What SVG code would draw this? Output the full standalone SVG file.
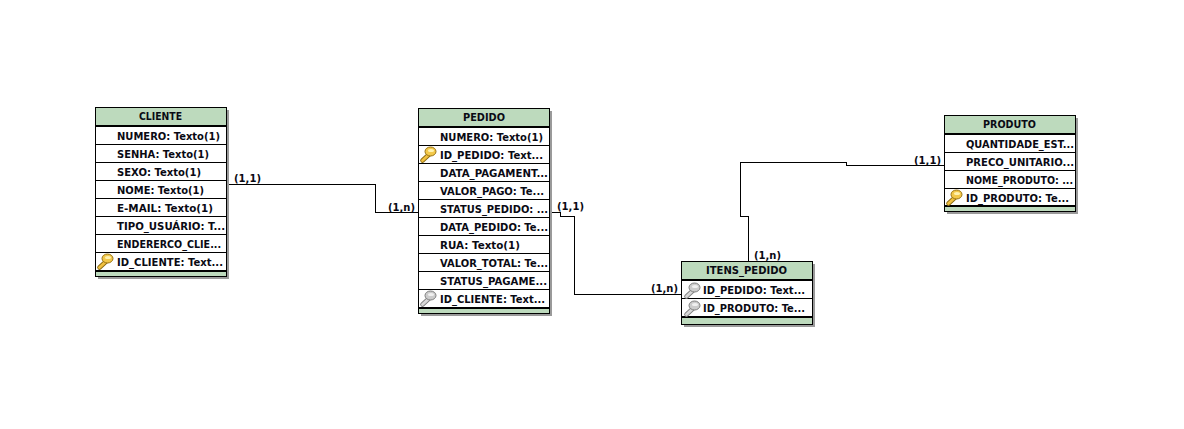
<svg xmlns="http://www.w3.org/2000/svg" xmlns:xlink="http://www.w3.org/1999/xlink" width="1184" height="429" viewBox="0 0 1184 429">
<style>
text{font-family:"DejaVu Sans","Liberation Sans",sans-serif;font-weight:bold;font-size:11px;fill:#0a0a14}
.box{fill:#fff;stroke:none}
.shadow{fill:#9a9a9a}
.head{fill:#bddabd}
.line{fill:none;stroke:#000;stroke-width:1;shape-rendering:crispEdges}
.thick{fill:none;stroke:#000;stroke-width:2;shape-rendering:crispEdges}
.conn{fill:none;stroke:#000;stroke-width:1;shape-rendering:crispEdges}
</style>
<defs>
<g id="key-gold"><path d="M2.500 14.500 L9 8.500" stroke="#8a6a10" stroke-width="4.600" stroke-linecap="round" fill="none"/><path d="M2.500 14.500 L9 8.500" stroke="#f0c040" stroke-width="2.800" stroke-linecap="round" fill="none"/><ellipse cx="10.500" cy="5.500" rx="5.500" ry="4.500" fill="#f2c84a" stroke="#9a7414" stroke-width="1"/><ellipse cx="11" cy="4.500" rx="3" ry="1.600" fill="#fff2b0"/></g>
<g id="key-grey"><path d="M2.500 14.500 L9 8.500" stroke="#808080" stroke-width="4.600" stroke-linecap="round" fill="none"/><path d="M2.500 14.500 L9 8.500" stroke="#d8d8d8" stroke-width="2.800" stroke-linecap="round" fill="none"/><ellipse cx="10.500" cy="5.500" rx="5.500" ry="4.500" fill="#cccccc" stroke="#808080" stroke-width="1"/><ellipse cx="11" cy="4.500" rx="3" ry="1.600" fill="#f0f0f0"/></g>
</defs>
<rect width="1184" height="429" fill="#fff"/>
<g id="connectors">
<path class="conn" d="M228.500 184.500H375.500V212.500H418"/>
<path class="conn" d="M550 212.500H560.500V216.500H574.500V294.500H681"/>
<path class="conn" d="M748.500 261V216.500H740.500V162.500H846.500V165.500H944"/>
</g>
<g id="labels">
<text x="234" y="182" textLength="27" lengthAdjust="spacingAndGlyphs">(1,1)</text>
<text x="388" y="211" textLength="27" lengthAdjust="spacingAndGlyphs">(1,n)</text>
<text x="557" y="210" textLength="27" lengthAdjust="spacingAndGlyphs">(1,1)</text>
<text x="651" y="292" textLength="27" lengthAdjust="spacingAndGlyphs">(1,n)</text>
<text x="754" y="259" textLength="27" lengthAdjust="spacingAndGlyphs">(1,n)</text>
<text x="914" y="164" textLength="27" lengthAdjust="spacingAndGlyphs">(1,1)</text>
</g>
<g id="cliente">
<rect class="shadow" x="98" y="110" width="131" height="169"/>
<rect class="box" x="96" y="108" width="131" height="169"/>
<rect class="head" x="96" y="108" width="131" height="18"/>
<rect class="head" x="96" y="271" width="131" height="6"/>
<rect class="line" x="95.500" y="107.500" width="131" height="169"/>
<path class="thick" d="M96 126H227M96 270.500H227"/>
<path class="line" d="M96 144.500H227M96 162.500H227M96 180.500H227M96 198.500H227M96 216.500H227M96 234.500H227M96 252.500H227"/>
<text x="139" y="120" textLength="43" lengthAdjust="spacingAndGlyphs">CLIENTE</text>
<text x="117" y="140" textLength="103" lengthAdjust="spacingAndGlyphs">NUMERO: Texto(1)</text>
<text x="117" y="158" textLength="92" lengthAdjust="spacingAndGlyphs">SENHA: Texto(1)</text>
<text x="117" y="176" textLength="84" lengthAdjust="spacingAndGlyphs">SEXO: Texto(1)</text>
<text x="117" y="194" textLength="87" lengthAdjust="spacingAndGlyphs">NOME: Texto(1)</text>
<text x="117" y="212" textLength="96" lengthAdjust="spacingAndGlyphs">E-MAIL: Texto(1)</text>
<text x="117" y="230" textLength="108" lengthAdjust="spacingAndGlyphs">TIPO_USUÁRIO: T...</text>
<text x="117" y="248" textLength="104" lengthAdjust="spacingAndGlyphs">ENDERERCO_CLIE...</text>
<text x="117" y="266" textLength="106" lengthAdjust="spacingAndGlyphs">ID_CLIENTE: Text...</text>
<use xlink:href="#key-gold" href="#key-gold" x="97" y="253"/>
</g>
<g id="pedido">
<rect class="shadow" x="421" y="111" width="131" height="205"/>
<rect class="box" x="419" y="109" width="131" height="205"/>
<rect class="head" x="419" y="109" width="131" height="18"/>
<rect class="head" x="419" y="308" width="131" height="6"/>
<rect class="line" x="418.500" y="108.500" width="131" height="205"/>
<path class="thick" d="M419 127H550M419 307.500H550"/>
<path class="line" d="M419 145.500H550M419 163.500H550M419 181.500H550M419 199.500H550M419 217.500H550M419 235.500H550M419 253.500H550M419 271.500H550M419 289.500H550"/>
<text x="463" y="121" textLength="42" lengthAdjust="spacingAndGlyphs">PEDIDO</text>
<text x="440" y="141" textLength="103" lengthAdjust="spacingAndGlyphs">NUMERO: Texto(1)</text>
<text x="440" y="159" textLength="103" lengthAdjust="spacingAndGlyphs">ID_PEDIDO: Text...</text>
<text x="440" y="177" textLength="108" lengthAdjust="spacingAndGlyphs">DATA_PAGAMENT...</text>
<text x="440" y="195" textLength="104" lengthAdjust="spacingAndGlyphs">VALOR_PAGO: Te...</text>
<text x="440" y="213" textLength="108" lengthAdjust="spacingAndGlyphs">STATUS_PEDIDO: ...</text>
<text x="440" y="231" textLength="108" lengthAdjust="spacingAndGlyphs">DATA_PEDIDO: Te...</text>
<text x="440" y="249" textLength="80" lengthAdjust="spacingAndGlyphs">RUA: Texto(1)</text>
<text x="440" y="267" textLength="108" lengthAdjust="spacingAndGlyphs">VALOR_TOTAL: Te...</text>
<text x="440" y="285" textLength="107" lengthAdjust="spacingAndGlyphs">STATUS_PAGAME...</text>
<text x="440" y="303" textLength="105" lengthAdjust="spacingAndGlyphs">ID_CLIENTE: Text...</text>
<use xlink:href="#key-gold" href="#key-gold" x="420" y="146"/>
<use xlink:href="#key-grey" href="#key-grey" x="420" y="290"/>
</g>
<g id="itens_pedido">
<rect class="shadow" x="684" y="264" width="131" height="63"/>
<rect class="box" x="682" y="262" width="131" height="63"/>
<rect class="head" x="682" y="262" width="131" height="18"/>
<rect class="head" x="682" y="318" width="131" height="7"/>
<rect class="line" x="681.500" y="261.500" width="131" height="63"/>
<path class="thick" d="M682 280H813M682 317H813"/>
<path class="line" d="M682 298.500H813"/>
<text x="706" y="274" textLength="81" lengthAdjust="spacingAndGlyphs">ITENS_PEDIDO</text>
<text x="703" y="294" textLength="102" lengthAdjust="spacingAndGlyphs">ID_PEDIDO: Text...</text>
<text x="703" y="312" textLength="102" lengthAdjust="spacingAndGlyphs">ID_PRODUTO: Te...</text>
<use xlink:href="#key-grey" href="#key-grey" x="684" y="282"/>
<use xlink:href="#key-grey" href="#key-grey" x="684" y="300"/>
</g>
<g id="produto">
<rect class="shadow" x="947" y="118" width="131" height="96"/>
<rect class="box" x="945" y="116" width="131" height="96"/>
<rect class="head" x="945" y="116" width="131" height="18"/>
<rect class="head" x="945" y="206" width="131" height="6"/>
<rect class="line" x="944.500" y="115.500" width="131" height="96"/>
<path class="thick" d="M945 134H1076M945 206H1076"/>
<path class="line" d="M945 152.500H1076M945 170.500H1076M945 188.500H1076"/>
<text x="983" y="128" textLength="53" lengthAdjust="spacingAndGlyphs">PRODUTO</text>
<text x="966" y="148" textLength="108" lengthAdjust="spacingAndGlyphs">QUANTIDADE_EST...</text>
<text x="966" y="166" textLength="108" lengthAdjust="spacingAndGlyphs">PRECO_UNITARIO...</text>
<text x="966" y="184" textLength="107" lengthAdjust="spacingAndGlyphs">NOME_PRODUTO: ...</text>
<text x="966" y="202" textLength="103" lengthAdjust="spacingAndGlyphs">ID_PRODUTO: Te...</text>
<use xlink:href="#key-gold" href="#key-gold" x="946" y="189"/>
</g>
</svg>
